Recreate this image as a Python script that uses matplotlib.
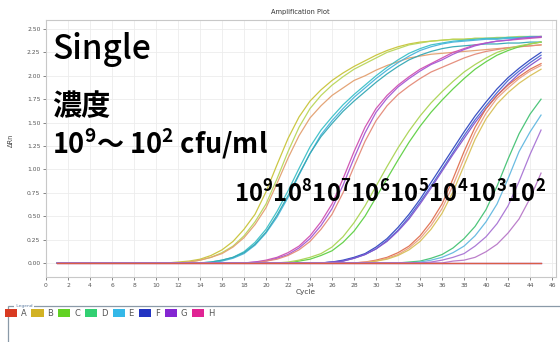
import numpy as np
import matplotlib
matplotlib.use("Agg")
import matplotlib.pyplot as plt
from matplotlib.patches import Patch, Rectangle

plt.rcParams['font.family'] = ['DejaVu Sans']
plt.rcParams['mathtext.fontset'] = 'custom'
plt.rcParams['mathtext.rm'] = 'Noto Sans CJK JP:bold'
plt.rcParams['mathtext.it'] = 'Noto Sans CJK JP:bold'
plt.rcParams['mathtext.bf'] = 'Noto Sans CJK JP:bold'

# cycles 1..45, every curve list below ends at cycle 45 (leading baseline = 0)
n_cycles = 45

# 10^9
c9_a = [0.01, 0.02, 0.04, 0.08, 0.14, 0.23, 0.36, 0.52, 0.76, 1.05, 1.33, 1.56, 1.73, 1.85, 1.95, 2.03, 2.10,
        2.16, 2.22, 2.27, 2.31, 2.34, 2.36, 2.37, 2.38, 2.39, 2.39, 2.40, 2.40, 2.40, 2.41, 2.41, 2.41, 2.42]
c9_b = [0.01, 0.03, 0.06, 0.11, 0.18, 0.29, 0.44, 0.63, 0.90, 1.19, 1.45, 1.65, 1.79, 1.90, 1.99, 2.07, 2.13,
        2.19, 2.25, 2.29, 2.33, 2.35, 2.37, 2.38, 2.39, 2.39, 2.40, 2.40, 2.41, 2.41, 2.42, 2.42, 2.42]
c9_c = [0.01, 0.03, 0.06, 0.10, 0.17, 0.27, 0.41, 0.59, 0.85, 1.12, 1.36, 1.55, 1.68, 1.79, 1.87, 1.95, 2.00,
        2.06, 2.11, 2.15, 2.19, 2.21, 2.23, 2.24, 2.25, 2.26, 2.27, 2.28, 2.29, 2.30, 2.31, 2.32, 2.33]
# 10^8
c8_a = [0.01, 0.03, 0.06, 0.12, 0.22, 0.36, 0.55, 0.77, 1.01, 1.24, 1.42, 1.56, 1.69, 1.80, 1.90, 2.00, 2.09,
        2.17, 2.24, 2.29, 2.33, 2.35, 2.37, 2.38, 2.39, 2.40, 2.40, 2.41, 2.41, 2.42, 2.42]
c8_b = [0.02, 0.05, 0.10, 0.19, 0.32, 0.49, 0.70, 0.94, 1.17, 1.37, 1.52, 1.65, 1.77, 1.87, 1.97, 2.06, 2.14,
        2.21, 2.27, 2.31, 2.34, 2.36, 2.37, 2.38, 2.39, 2.39, 2.40, 2.40, 2.41, 2.41]
c8_c = [0.01, 0.03, 0.06, 0.11, 0.20, 0.33, 0.51, 0.72, 0.95, 1.17, 1.35, 1.49, 1.62, 1.73, 1.83, 1.93, 2.02,
        2.10, 2.17, 2.22, 2.26, 2.29, 2.31, 2.32, 2.33, 2.34, 2.34, 2.35, 2.35, 2.36, 2.36]
# 10^7
c7_a = [0.01, 0.03, 0.06, 0.11, 0.18, 0.29, 0.44, 0.63, 0.90, 1.19, 1.45, 1.65, 1.79, 1.90, 1.99, 2.07, 2.13,
        2.19, 2.25, 2.29, 2.33, 2.35, 2.37, 2.38, 2.39, 2.40, 2.41]
c7_b = [0.01, 0.02, 0.05, 0.09, 0.16, 0.26, 0.40, 0.58, 0.83, 1.12, 1.39, 1.61, 1.76, 1.88, 1.97, 2.05, 2.12,
        2.17, 2.23, 2.28, 2.32, 2.35, 2.37, 2.38, 2.40, 2.41, 2.42]
c7_c = [0.02, 0.04, 0.08, 0.14, 0.23, 0.36, 0.52, 0.75, 1.03, 1.30, 1.52, 1.68, 1.80, 1.89, 1.97, 2.04, 2.09,
        2.14, 2.19, 2.23, 2.26, 2.28, 2.30, 2.31, 2.32, 2.33]
# 10^6
c6_a = [0.02, 0.04, 0.08, 0.13, 0.22, 0.34, 0.50, 0.70, 0.90, 1.10, 1.29, 1.46, 1.61, 1.74, 1.86, 1.97, 2.07,
        2.15, 2.22, 2.27, 2.31, 2.34, 2.36]
c6_b = [0.01, 0.03, 0.06, 0.10, 0.17, 0.28, 0.43, 0.61, 0.82, 1.03, 1.23, 1.41, 1.57, 1.71, 1.83, 1.94, 2.04,
        2.12, 2.19, 2.25, 2.29, 2.32, 2.34, 2.36]
# 10^5
c5_a = [0.01, 0.03, 0.06, 0.10, 0.17, 0.26, 0.38, 0.52, 0.68, 0.86, 1.04, 1.22, 1.40, 1.57, 1.72, 1.86, 1.98,
        2.08, 2.17, 2.25]
c5_b = [0.01, 0.02, 0.05, 0.09, 0.15, 0.24, 0.35, 0.49, 0.65, 0.82, 1.00, 1.18, 1.36, 1.53, 1.68, 1.82, 1.95,
        2.05, 2.14, 2.22]
c5_c = [0.01, 0.02, 0.05, 0.09, 0.15, 0.23, 0.34, 0.47, 0.63, 0.80, 0.98, 1.16, 1.33, 1.50, 1.65, 1.79, 1.91,
        2.02, 2.11, 2.19]
# 10^4
c4_a = [0.01, 0.03, 0.06, 0.11, 0.18, 0.29, 0.44, 0.63, 0.90, 1.19, 1.45, 1.65, 1.79, 1.90, 1.99, 2.07, 2.13]
c4_b = [0.01, 0.02, 0.05, 0.09, 0.16, 0.26, 0.40, 0.58, 0.83, 1.12, 1.39, 1.60, 1.76, 1.87, 1.97, 2.05, 2.11]
c4_c = [0.02, 0.04, 0.08, 0.14, 0.23, 0.36, 0.53, 0.76, 1.04, 1.32, 1.54, 1.70, 1.82, 1.92, 2.00, 2.07]
# 10^3
c3_a = [0.01, 0.02, 0.05, 0.09, 0.16, 0.26, 0.39, 0.57, 0.82, 1.11, 1.38, 1.59, 1.75]
c3_b = [0.01, 0.03, 0.06, 0.11, 0.18, 0.29, 0.44, 0.63, 0.90, 1.19, 1.40, 1.58]
c3_c = [0.01, 0.03, 0.06, 0.10, 0.18, 0.28, 0.42, 0.61, 0.87, 1.16, 1.42]
# 10^2
c2_a = [0.02, 0.03, 0.06, 0.12, 0.20, 0.32, 0.47, 0.69, 0.96]
# no amplification
flat_a = [0.0]
flat_b = [0.0]
flat_c = [0.0]

curves = [c9_a, c9_b, c9_c, c8_a, c8_b, c8_c, c7_a, c7_b, c7_c, c6_a, c6_b,
          c5_a, c5_b, c5_c, c4_a, c4_b, c4_c, c3_a, c3_b, c3_c, c2_a, flat_a, flat_b, flat_c]
curve_colors = ['#c9c43a', '#b9d65a', '#e3a070', '#3cc0c8', '#48b4dc', '#34a8b4',
                '#d050b0', '#a458d4', '#e48a78', '#5fd044', '#aad454',
                '#3048c0', '#4a66d4', '#8454cc', '#e07050', '#eaa084', '#d8c058',
                '#44c274', '#62b8e0', '#a874d4', '#b878c8', '#c04898', '#8048c0', '#e06040']

well_labels = ['A', 'B', 'C', 'D', 'E', 'F', 'G', 'H']
well_colors = ['#d83a22', '#d2b224', '#62d224', '#32d072', '#34b8e8', '#2234c2', '#8426d2', '#e02494']

conc_labels = r'$10^9 10^8 10^7 10^6 10^5 10^4 10^3 10^2$'

W, H = 560, 342
fig = plt.figure(figsize=(W / 100, H / 100), dpi=100)


def fx(px):
    return px / W


def fy(py):
    return 1 - py / H


ax = fig.add_axes([fx(46), fy(277), fx(556) - fx(46), fy(20) - fy(277)])
cycles = np.arange(1, n_cycles + 1)
for vals, col in zip(curves, curve_colors):
    y = np.concatenate([np.zeros(n_cycles - len(vals)), vals])
    ax.plot(cycles, y, color=col, lw=0.9, alpha=0.95)

ax.set_xlim(0, 46.36)
ax.set_ylim(-0.15, 2.596)
ax.set_xticks(np.arange(0, 47, 2))
ax.set_yticks(np.arange(0, 2.51, 0.25))
ax.set_yticklabels([f'{v:.2f}' for v in np.arange(0, 2.51, 0.25)])
ax.grid(True, color='#ececec', lw=0.6)
ax.set_axisbelow(True)
ax.tick_params(labelsize=4.3, colors='#555555', length=2, width=0.5, pad=2)
for s in ax.spines.values():
    s.set_color('#c8c8c8')
    s.set_linewidth(0.8)

fig.text(fx(300), fy(12), 'Amplification Plot', fontsize=4.8, color='#333333', ha='center', va='center')
fig.text(fx(306), fy(292), 'Cycle', fontsize=5.3, color='#444444', ha='center', va='center')
fig.text(fx(11), fy(140), 'ΔRn', fontsize=4.8, color='#444444', ha='center', va='center', rotation=90)

# annotation text
jp = ['Noto Sans CJK JP', 'DejaVu Sans']
fig.text(fx(52), fy(59), 'Single', fontsize=24, family=jp, weight='medium', va='baseline')
fig.text(fx(52), fy(115), '濃度', fontsize=21, family=jp, weight='bold', va='baseline')
fig.text(fx(52), fy(154), r'$10^9$〜 $10^2$ cfu/ml', fontsize=19.5, family=jp, weight='bold', va='baseline')
fig.text(fx(234), fy(203), conc_labels, fontsize=17.2, va='baseline')

# legend panel
lax = fig.add_axes([fx(8), 0, 1 - fx(8), fy(306)])
lax.set_xlim(0, 1)
lax.set_ylim(0, 1)
lax.axis('off')
lax.add_patch(Rectangle((0, -0.5), 1.2, 1.5, fill=False, ec='#8a9aa8', lw=0.9, clip_on=False))
lax.text(0.012, 1.0, ' Legend ', fontsize=3.2, color='#5a7aa0', va='center', ha='left',
         bbox=dict(fc='white', ec='none', pad=0.2))
handles = [Patch(facecolor=c, edgecolor='none', label=l) for c, l in zip(well_colors, well_labels)]
lax.legend(handles=handles, ncol=8, loc='upper left', bbox_to_anchor=(-0.006, 0.93), frameon=False,
           fontsize=6, handlelength=1.45, handleheight=1.1, handletextpad=0.45, columnspacing=0.62,
           labelcolor='#555555', borderaxespad=0, borderpad=0)

fig.savefig('out.png', dpi=100)
